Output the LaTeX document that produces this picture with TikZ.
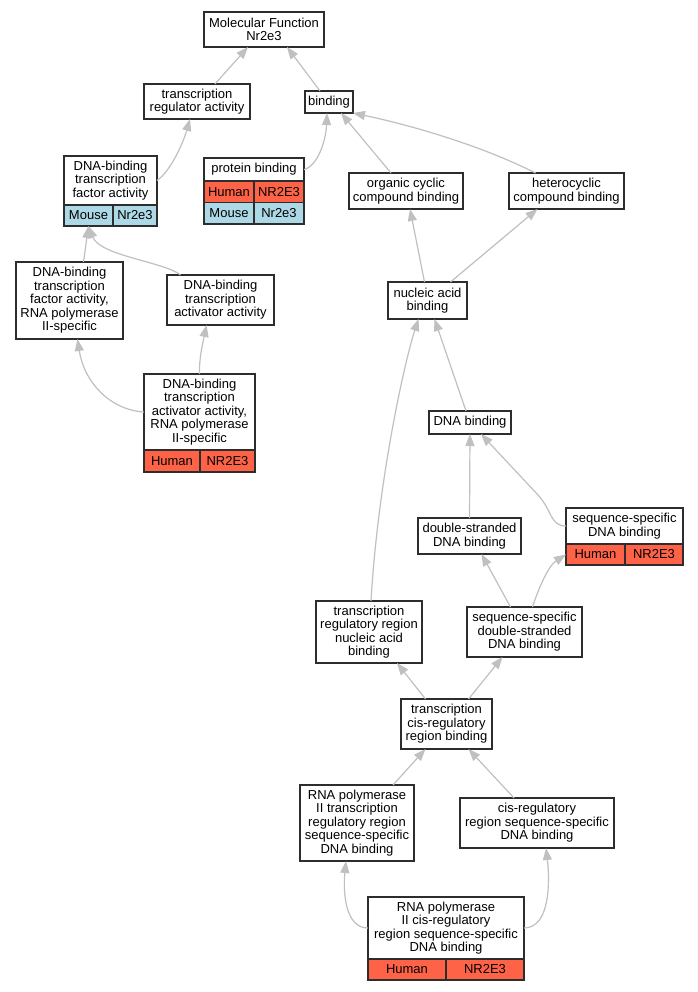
\documentclass[tikz,border=0pt]{standalone}
\usepackage{fontspec}
\setmainfont{Liberation Sans}
\definecolor{human}{RGB}{255,99,71}
\definecolor{mouse}{RGB}{173,216,230}
\definecolor{edgegray}{RGB}{192,192,192}
\definecolor{boxline}{RGB}{45,45,45}
\usetikzlibrary{arrows.meta}
\usetikzlibrary{positioning}
\tikzset{
  term/.style={
    draw=boxline, line width=1.3pt, fill=white, outer sep=0,
    align=center, inner sep=1pt,
    font=\fontsize{13}{13.5}\selectfont
  },
  cell/.style={
    draw=boxline, line width=1.3pt, anchor=north west, outer sep=0,
    inner sep=0, minimum height=21.5,
    font=\fontsize{13}{13.5}\selectfont
  },
  edge/.style={draw=edgegray, line width=1.2pt, -{Triangle[length=12pt,width=9pt]}}
}

\begin{document}
\begin{tikzpicture}[x=1pt,y=-1pt]
  \useasboundingbox[fill=white] (0,0) rectangle (697,992);

  % terms
  \node[term, minimum width=120, minimum height=35] (mf) at (264,29.5) {Molecular Function\\Nr2e3};
  \node[term, minimum width=106, minimum height=35] (tra) at (197,101.5) {transcription\\regulator activity};
  \node[term, minimum width=48, minimum height=22] (bind) at (329,102) {binding};
  \node[term, minimum width=93, minimum height=49] (dtfa) at (110.5,180.5) {DNA-binding\\transcription\\factor activity};
  \node[term, minimum width=100, minimum height=23] (pb) at (254,169.5) {protein binding};
  \node[term, minimum width=114, minimum height=36] (occb) at (406,191) {organic cyclic\\compound binding};
  \node[term, minimum width=115, minimum height=36] (hccb) at (566.5,191) {heterocyclic\\compound binding};
  \node[term, minimum width=107, minimum height=77] (dtfar) at (69.5,300.5) {DNA-binding\\transcription\\factor activity,\\RNA polymerase\\II-specific};
  \node[term, minimum width=107, minimum height=50] (dtaa) at (220.5,300) {DNA-binding\\transcription\\activator activity};
  \node[term, minimum width=79, minimum height=37] (nab) at (427.5,300.5) {nucleic acid\\binding};
  \node[term, minimum width=111, minimum height=76] (dtaar) at (199.5,412) {DNA-binding\\transcription\\activator activity,\\RNA polymerase\\II-specific};
  \node[term, minimum width=82, minimum height=23] (dnab) at (470,422.5) {DNA binding};
  \node[term, minimum width=103, minimum height=36] (dsdb) at (469.5,536) {double-stranded\\DNA binding};
  \node[term, minimum width=117, minimum height=36] (ssdb) at (624.5,526) {sequence-specific\\DNA binding};
  \node[term, minimum width=106, minimum height=62] (trr) at (369,632) {transcription\\regulatory region\\nucleic acid\\binding};
  \node[term, minimum width=115, minimum height=50] (ssds) at (524.5,632) {sequence-specific\\double-stranded\\DNA binding};
  \node[term, minimum width=91, minimum height=50] (tcr) at (446.5,724) {transcription\\cis-regulatory\\region binding};
  \node[term, minimum width=114, minimum height=76] (rtrr) at (357,823) {RNA polymerase\\II transcription\\regulatory region\\sequence-specific\\DNA binding};
  \node[term, minimum width=154, minimum height=50] (crr) at (537,823) {cis-regulatory\\region sequence-specific\\DNA binding};
  \node[term, minimum width=156, minimum height=62] (rcr) at (446,928) {RNA polymerase\\II cis-regulatory\\region sequence-specific\\DNA binding};

  % species rows
  \node[cell, fill=mouse, minimum width=49, minimum height=21] (dtfa-m) at (dtfa.south west) {Mouse};
  \node[cell, fill=mouse, minimum width=44, minimum height=21] (dtfa-m2) at (dtfa-m.north east) {Nr2e3};
  \node[cell, fill=human, minimum width=50] (pb-h) at (pb.south west) {Human};
  \node[cell, fill=human, minimum width=50] (pb-h2) at (pb-h.north east) {NR2E3};
  \node[cell, fill=mouse, minimum width=50] (pb-m) at (pb-h.south west) {Mouse};
  \node[cell, fill=mouse, minimum width=50] (pb-m2) at (pb-m.north east) {Nr2e3};
  \node[cell, fill=human, minimum width=56, minimum height=22] (dtaar-h) at (dtaar.south west) {Human};
  \node[cell, fill=human, minimum width=55, minimum height=22] (dtaar-h2) at (dtaar-h.north east) {NR2E3};
  \node[cell, fill=human, minimum width=59, minimum height=21] (ssdb-h) at (ssdb.south west) {Human};
  \node[cell, fill=human, minimum width=58, minimum height=21] (ssdb-h2) at (ssdb-h.north east) {NR2E3};
  \node[cell, fill=human, minimum width=78, minimum height=21] (rcr-h) at (rcr.south west) {Human};
  \node[cell, fill=human, minimum width=78, minimum height=21] (rcr-h2) at (rcr-h.north east) {NR2E3};

  % is_a edges
  \draw[edge] ([xshift=18]tra.north) -- ([xshift=-16]mf.south);
  \draw[edge] ([xshift=-9]bind.north) -- ([xshift=23]mf.south);
  \draw[edge] (dtfa.east) .. controls (172,170) and (184,140) .. ([xshift=-7]tra.south);
  \draw[edge] (pb.east) .. controls (318,166) and (326,140) .. ([xshift=-2]bind.south);
  \draw[edge] ([xshift=-15]occb.north) -- ([xshift=12]bind.south);
  \draw[edge] ([xshift=-31]hccb.north) .. controls (480,145) and (410,125) .. (bind.south east);
  \draw[edge] ([xshift=14]dtfar.north) -- (dtfa-m.south);
  \draw[edge] ([xshift=-40]dtaa.north) .. controls (165,262) and (100,256) .. (dtfa-m.south);
  \draw[edge] ([xshift=-3]nab.north) -- ([xshift=4]occb.south);
  \draw[edge] ([xshift=23]nab.north) -- ([xshift=-29]hccb.south);
  \draw[edge] (dtaar.west) .. controls (110,410) and (84,382) .. ([xshift=8]dtfar.south);
  \draw[edge] (dtaar.north) .. controls (199,358) and (203,342) .. ([xshift=-14]dtaa.south);
  \draw[edge] ([xshift=-4]dnab.north) -- ([xshift=7]nab.south);
  \draw[edge] ([xshift=2]trr.north) .. controls (378,480) and (405,360) .. ([xshift=-9]nab.south);
  \draw[edge] (dsdb.north) -- (dnab.south);
  \draw[edge] (ssdb.west) .. controls (550,526) and (552,510) .. (538,495) -- ([xshift=11]dnab.south);
  \draw[edge] ([xshift=-14]ssds.north) -- ([xshift=12]dsdb.south);
  \draw[edge] ([xshift=8]ssds.north) .. controls (538,590) and (548,566) .. (ssdb-h.west);
  \draw[edge] ([xshift=-21]tcr.north) -- ([xshift=28]trr.south);
  \draw[edge] ([xshift=22]tcr.north) -- ([xshift=-22]ssds.south);
  \draw[edge] ([xshift=36]rtrr.north) -- ([xshift=-21]tcr.south);
  \draw[edge] ([xshift=-23]crr.north) -- ([xshift=22]tcr.south);
  \draw[edge] (rcr.west) .. controls (345,928) and (343,892) .. ([xshift=-11]rtrr.south);
  \draw[edge] (rcr.east) .. controls (550,928) and (550,882) .. ([xshift=9]crr.south);
\end{tikzpicture}
\end{document}
